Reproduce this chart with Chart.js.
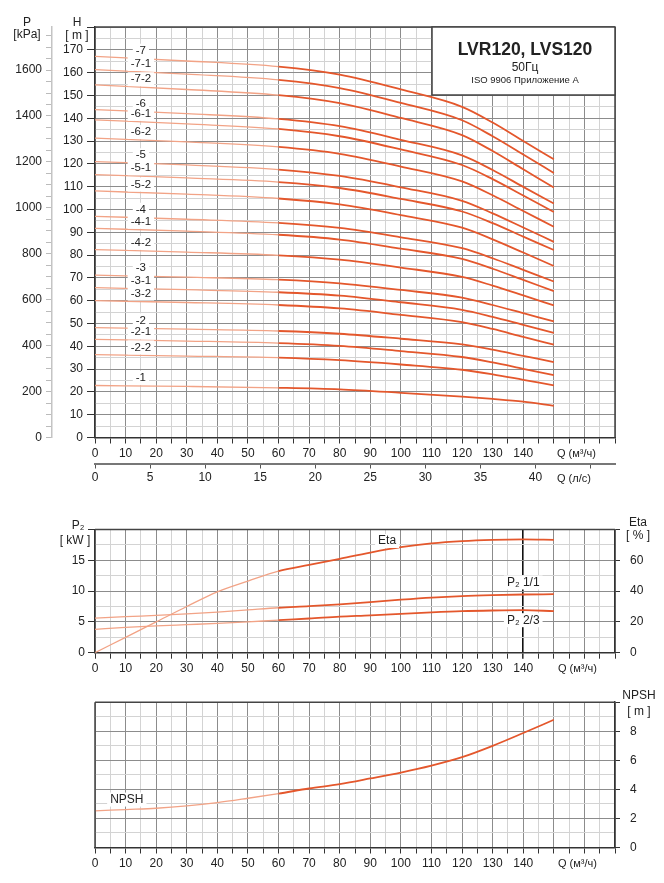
<!DOCTYPE html>
<html lang="ru">
<head>
<meta charset="UTF-8">
<script src="https://cdn.jsdelivr.net/npm/chart.js"></script>
<title>LVR120, LVS120</title>
<style>
  body { margin: 0; background: #fff; font-family: "Liberation Sans", Arial, sans-serif; }
  canvas { position: absolute; left: 0; }
</style>
</head>
<body>
<canvas id="headChart" width="664" height="495" style="top:0"></canvas>
<canvas id="powerChart" width="664" height="190" style="top:495px"></canvas>
<canvas id="npshChart" width="664" height="198" style="top:685px"></canvas>
<script>
// flow points where the head curves were read (m3/h)
const qHead = [0, 30, 60, 80, 100, 120, 130, 140, 150];
const headLabels = ['-7', '-7-1', '-7-2', '-6', '-6-1', '-6-2', '-5', '-5-1', '-5-2',
  '-4', '-4-1', '-4-2', '-3', '-3-1', '-3-2', '-2', '-2-1', '-2-2', '-1'];
const h7   = [167.1, 165.1, 162.6, 159.1, 152.6, 145.0, 138.1, 130.0, 122.0];
const h7_1 = [161.3, 159.3, 156.8, 153.2, 146.7, 139.1, 132.1, 124.1, 116.0];
const h7_2 = [154.6, 152.6, 150.1, 146.6, 140.1, 132.6, 125.6, 117.6, 109.6];
const h6   = [143.8, 142.0, 139.7, 136.5, 130.5, 123.7, 117.3, 109.9, 102.6];
const h6_1 = [139.3, 137.5, 135.3, 132.1, 126.3, 119.5, 113.3, 106.1, 98.9];
const h6_2 = [131.3, 129.6, 127.4, 124.4, 118.8, 112.3, 106.2, 99.3, 92.4];
const h5   = [121.0, 119.5, 117.5, 114.7, 109.7, 103.8, 98.3, 92.1, 85.8];
const h5_1 = [115.3, 113.8, 112.0, 109.4, 104.6, 99.1, 94.0, 88.1, 82.2];
const h5_2 = [108.1, 106.7, 104.8, 102.2, 97.5, 92.0, 86.9, 81.1, 75.2];
const h4   = [97.0, 95.7, 94.1, 91.9, 87.8, 83.0, 78.6, 73.5, 68.4];
const h4_1 = [91.7, 90.5, 88.9, 86.8, 82.8, 78.3, 74.0, 69.1, 64.2];
const h4_2 = [82.4, 81.3, 79.9, 78.0, 74.5, 70.4, 66.6, 62.3, 57.9];
const h3   = [71.2, 70.3, 69.2, 67.6, 64.7, 61.3, 58.1, 54.5, 50.9];
const h3_1 = [65.7, 64.8, 63.7, 62.2, 59.3, 56.0, 52.9, 49.4, 45.9];
const h3_2 = [60.0, 59.2, 58.1, 56.6, 53.8, 50.6, 47.6, 44.1, 40.7];
const h2   = [48.2, 47.5, 46.7, 45.5, 43.3, 40.8, 38.5, 35.8, 33.1];
const h2_1 = [43.0, 42.3, 41.4, 40.2, 37.9, 35.3, 32.9, 30.1, 27.3];
const h2_2 = [36.3, 35.7, 35.0, 33.9, 32.0, 29.7, 27.7, 25.3, 22.9];
const h1   = [22.8, 22.4, 21.8, 21.1, 19.6, 17.9, 16.9, 15.7, 13.9];
const headCurves = [h7, h7_1, h7_2, h6, h6_1, h6_2, h5, h5_1, h5_2,
  h4, h4_1, h4_2, h3, h3_1, h3_2, h2, h2_1, h2_2, h1];

// power / efficiency / npsh, read every 10 m3/h
const qPower = [0, 10, 20, 30, 40, 50, 60, 70, 80, 90, 100, 110, 120, 130, 140, 150];
const eta    = [0, 10, 20, 30, 39.5, 46.5, 53, 57, 61, 65, 68.5, 71, 72.5, 73.3, 73.6, 73.3];
const p2Full = [5.6, 5.85, 6.05, 6.3, 6.6, 6.95, 7.3, 7.55, 7.85, 8.2, 8.6, 8.95, 9.2, 9.35, 9.45, 9.5];
const p2Two3 = [3.8, 4.1, 4.35, 4.55, 4.75, 5.0, 5.3, 5.55, 5.85, 6.05, 6.3, 6.55, 6.75, 6.85, 6.9, 6.75];
const npsh   = [2.52, 2.61, 2.7, 2.86, 3.09, 3.39, 3.71, 4.06, 4.36, 4.75, 5.16, 5.64, 6.22, 7.0, 7.88, 8.79];

const LIGHT = '#f2a386';
const DARK = '#e4572c';
const MAJOR = '#8c8c8c';
const MINOR = '#d3d3d3';
const FONT = '"Liberation Sans", Arial, sans-serif';

Chart.defaults.font.family = FONT;
Chart.defaults.font.size = 12;
Chart.defaults.color = '#222';

function curve(q, vals, yAxisID) {
  return {
    data: q.map((x, i) => ({ x: x, y: vals[i] })),
    yAxisID: yAxisID || 'y',
    borderColor: DARK,
    borderWidth: 1.8,
    pointRadius: 0,
    cubicInterpolationMode: 'monotone',
    segment: {
      borderColor: c => c.p0.parsed.x >= 60 ? DARK : LIGHT,
      borderWidth: c => c.p0.parsed.x >= 60 ? 1.8 : 1.3
    }
  };
}

function qAxis(height, special) {
  return {
    type: 'linear', min: 0, max: 170, position: 'bottom', weight: 0,
    afterFit: s => { s.height = height; },
    ticks: { stepSize: 5, autoSkip: false, maxRotation: 0, padding: 3,
      callback: v => (v % 10 === 0 && v <= 140) ? v : '' },
    grid: {
      color: c => (special && c.tick && c.tick.value === 140) ? '#111'
        : (c.tick && c.tick.value % 10 === 0 ? MAJOR : MINOR),
      lineWidth: c => (special && c.tick && c.tick.value === 140) ? 1.6 : 1,
      tickLength: 6,
      tickColor: '#333'
    },
    border: { color: '#333', width: 1.5 }
  };
}

function text(ctx, str, x, y, opts) {
  opts = opts || {};
  ctx.save();
  ctx.font = opts.font || ('12px ' + FONT);
  ctx.textAlign = opts.align || 'center';
  ctx.textBaseline = 'middle';
  if (opts.bg) {
    const w = ctx.measureText(str).width;
    const left = opts.align === 'left' ? x : x - w / 2;
    ctx.fillStyle = '#fff';
    ctx.fillRect(left - 3, y - 7, w + 6, 14);
  }
  ctx.fillStyle = '#222';
  ctx.fillText(str, x, y);
  ctx.restore();
}

function frame(ctx, a, sides) {
  ctx.save();
  ctx.strokeStyle = '#444';
  ctx.lineWidth = 1.5;
  ctx.beginPath();
  if (sides.indexOf('t') >= 0) { ctx.moveTo(a.left, a.top); ctx.lineTo(a.right, a.top); }
  if (sides.indexOf('r') >= 0) { ctx.moveTo(a.right, a.top); ctx.lineTo(a.right, a.bottom); }
  if (sides.indexOf('l') >= 0) { ctx.moveTo(a.left, a.top); ctx.lineTo(a.left, a.bottom); }
  ctx.stroke();
  ctx.restore();
}

const common = {
  responsive: false,
  animation: false,
  plugins: { legend: { display: false }, tooltip: { enabled: false } }
};

// ---------- head chart ----------
new Chart(document.getElementById('headChart'), {
  type: 'line',
  data: { datasets: headCurves.map(v => curve(qHead, v)) },
  options: Object.assign({}, common, {
    layout: { padding: { top: 27, right: 49, left: 0, bottom: 0 } },
    scales: {
      x: qAxis(26, false),
      xL: {
        type: 'linear', min: 0, max: 170 / 3.6, position: 'bottom', weight: 1,
        afterFit: s => { s.height = 31.5; },
        ticks: { stepSize: 5, includeBounds: false, autoSkip: false, maxRotation: 0, padding: 2,
          callback: v => v <= 40 ? v : '' },
        grid: { drawOnChartArea: false, tickLength: 5, color: '#555' },
        border: { color: '#777', width: 2 }
      },
      y: {
        type: 'linear', min: 0, max: 180, position: 'left', weight: 0,
        afterFit: s => { s.width = 43; },
        ticks: { stepSize: 5, autoSkip: false, padding: 4,
          callback: v => (v % 10 === 0 && v <= 170) ? v : '' },
        grid: {
          color: c => c.tick && c.tick.value % 10 === 0 ? MAJOR : MINOR,
          tickLength: 8,
          tickColor: c => c.tick && c.tick.value % 10 === 0 ? '#333' : 'rgba(0,0,0,0)'
        },
        border: { color: '#333', width: 1.5 }
      },
      yP: {
        type: 'linear', min: 0, max: 180 * 9.93, position: 'left', weight: 1,
        afterFit: s => { s.width = 52; },
        ticks: { stepSize: 50, includeBounds: false, autoSkip: false, padding: 4,
          callback: v => v % 200 === 0 ? v : '' },
        grid: { drawOnChartArea: false, tickLength: 6, color: '#bbb' },
        border: { color: '#c4c4c4', width: 1.5 }
      }
    }
  }),
  plugins: [{
    id: 'headDecor',
    afterDraw(chart) {
      const ctx = chart.ctx, a = chart.chartArea;
      const sx = chart.scales.x, sy = chart.scales.y;
      frame(ctx, a, 'tr');
      // curve labels at Q = 15
      headCurves.forEach((v, i) => {
        const y = sy.getPixelForValue((v[0] + v[1]) / 2) - 8;
        text(ctx, headLabels[i], sx.getPixelForValue(15), y, { bg: true, font: '11.5px ' + FONT });
      });
      // title box
      ctx.save();
      ctx.fillStyle = '#fff';
      ctx.fillRect(432, a.top, a.right - 432, 95 - a.top);
      ctx.strokeStyle = '#444';
      ctx.lineWidth = 1.5;
      ctx.strokeRect(432, a.top, a.right - 432, 95 - a.top);
      ctx.restore();
      text(ctx, 'LVR120, LVS120', 525, 50, { font: 'bold 17.5px ' + FONT });
      text(ctx, '50Гц', 525, 68, { font: '12px ' + FONT });
      text(ctx, 'ISO 9906 Приложение А', 525, 80, { font: '9.5px ' + FONT });
      // axis headers
      text(ctx, 'P', 27, 23, { font: '12px ' + FONT });
      text(ctx, '[kPa]', 27, 35, { font: '12px ' + FONT });
      text(ctx, 'H', 77, 23, { font: '12px ' + FONT });
      text(ctx, '[ m ]', 77, 36, { font: '12px ' + FONT });
      text(ctx, 'Q (м³/ч)', 557, 454, { align: 'left', font: '11px ' + FONT });
      text(ctx, 'Q (л/с)', 557, 479, { align: 'left', font: '11px ' + FONT });
    }
  }]
});

// ---------- P2 / Eta chart ----------
new Chart(document.getElementById('powerChart'), {
  type: 'line',
  data: { datasets: [curve(qPower, eta, 'yE'), curve(qPower, p2Full, 'y'), curve(qPower, p2Two3, 'y')] },
  options: Object.assign({}, common, {
    layout: { padding: { top: 34.5, right: 0, left: 0, bottom: 0 } },
    scales: {
      x: qAxis(32.3, true),
      y: {
        type: 'linear', min: 0, max: 20, position: 'left',
        afterFit: s => { s.width = 95; },
        ticks: { stepSize: 2.5, autoSkip: false, padding: 3,
          callback: v => (v % 5 === 0 && v <= 15) ? v : '' },
        grid: {
          color: c => c.tick && c.tick.value % 5 === 0 ? MAJOR : MINOR,
          tickLength: 7,
          tickColor: c => c.tick && c.tick.value % 5 === 0 ? '#333' : 'rgba(0,0,0,0)'
        },
        border: { color: '#333', width: 1.5 }
      },
      yE: {
        type: 'linear', min: 0, max: 80, position: 'right',
        afterFit: s => { s.width = 49; },
        ticks: { stepSize: 20, autoSkip: false, padding: 10,
          callback: v => v <= 60 ? v : '' },
        grid: { drawOnChartArea: false, tickLength: 5, tickColor: '#333' },
        border: { color: '#333', width: 1.5 }
      }
    }
  }),
  plugins: [{
    id: 'powerDecor',
    afterDraw(chart) {
      const ctx = chart.ctx, a = chart.chartArea;
      const sx = chart.scales.x, sy = chart.scales.y, se = chart.scales.yE;
      frame(ctx, a, 't');
      text(ctx, 'Eta', sx.getPixelForValue(95.5), se.getPixelForValue(66.7) - 9, { bg: true });
      text(ctx, 'P₂ 1/1', sx.getPixelForValue(140), sy.getPixelForValue(9.45) - 12, { bg: true });
      text(ctx, 'P₂ 2/3', sx.getPixelForValue(140), sy.getPixelForValue(6.9) + 10, { bg: true });
      text(ctx, 'P₂', 78, 31, { font: '12px ' + FONT });
      text(ctx, '[ kW ]', 75, 46, { font: '12px ' + FONT });
      text(ctx, 'Eta', 638, 28, { font: '12px ' + FONT });
      text(ctx, '[ % ]', 638, 41, { font: '12px ' + FONT });
      text(ctx, 'Q (м³/ч)', 558, 174, { align: 'left', font: '11px ' + FONT });
    }
  }]
});

// ---------- NPSH chart ----------
new Chart(document.getElementById('npshChart'), {
  type: 'line',
  data: { datasets: [curve(qPower, npsh, 'y')] },
  options: Object.assign({}, common, {
    layout: { padding: { top: 16.7, right: 0, left: 95, bottom: 0 } },
    scales: {
      x: qAxis(35.5, false),
      y: {
        type: 'linear', min: 0, max: 10, position: 'right',
        afterFit: s => { s.width = 49; },
        ticks: { stepSize: 1, autoSkip: false, padding: 10,
          callback: v => (v % 2 === 0 && v <= 8) ? v : '' },
        grid: {
          color: c => c.tick && c.tick.value % 2 === 0 ? MAJOR : MINOR,
          tickLength: 5,
          tickColor: c => c.tick && c.tick.value % 2 === 0 ? '#333' : 'rgba(0,0,0,0)'
        },
        border: { color: '#333', width: 1.5 }
      }
    }
  }),
  plugins: [{
    id: 'npshDecor',
    afterDraw(chart) {
      const ctx = chart.ctx, a = chart.chartArea;
      const sx = chart.scales.x, sy = chart.scales.y;
      frame(ctx, a, 'tl');
      text(ctx, 'NPSH', sx.getPixelForValue(10.4), sy.getPixelForValue(2.61) - 10, { bg: true });
      text(ctx, 'NPSH', 639, 11, { font: '12px ' + FONT });
      text(ctx, '[ m ]', 639, 27, { font: '12px ' + FONT });
      text(ctx, 'Q (м³/ч)', 558, 179, { align: 'left', font: '11px ' + FONT });
    }
  }]
});
</script>
</body>
</html>
